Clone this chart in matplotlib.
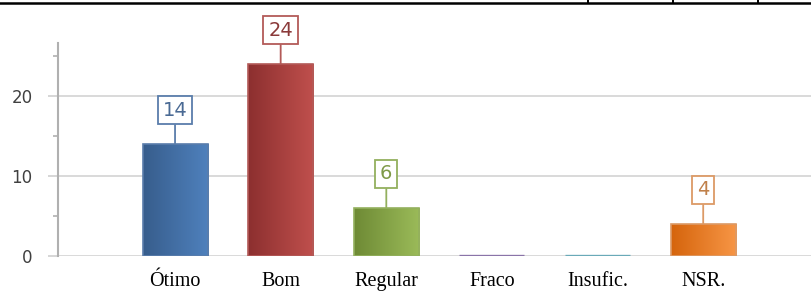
import numpy as np
import matplotlib
matplotlib.use("Agg")
import matplotlib.pyplot as plt
from matplotlib.colors import LinearSegmentedColormap
from matplotlib.lines import Line2D
from matplotlib.ticker import MultipleLocator

# ---- data ----
categories = ["Ótimo", "Bom", "Regular", "Fraco", "Insufic.", "NSR."]
values = [14, 24, 6, 0, 0, 4]
y_ticks = [0, 10, 20]

# ---- styles ----
dark_colors = ["#375d8c", "#8c2f2f", "#6e8a35", "#6f5790", "#4a9bb0", "#d5640c"]
light_colors = ["#4f81bd", "#c0504d", "#9bbb59", "#8a74a8", "#6aaab8", "#f79646"]
edge_colors = ["#5a7dab", "#b35a58", "#93b05e", "#8a74a8", "#6aaab8", "#dc9a66"]
text_colors = ["#4a6a94", "#8b3a3a", "#7f9a48", "#6f5790", "#4a9bb0", "#c0804a"]

W, H, DPI = 812, 291, 100
fig = plt.figure(figsize=(W / DPI, H / DPI), dpi=DPI)
fig.patch.set_facecolor("white")

ax_left, ax_bottom = 58 / W, (H - 255.7) / H
ax_w, ax_h = (W - 58) / W, (255.7 - 43) / H
ax = fig.add_axes([ax_left, ax_bottom, ax_w, ax_h])

x = np.arange(len(categories))
bar_w = 0.616
bars = ax.bar(x, values, width=bar_w, color="none", zorder=3)

grad = np.linspace(0, 1, 256).reshape(1, -1)
for i, (b, v) in enumerate(zip(bars, values)):
    if v > 0:
        cmap = LinearSegmentedColormap.from_list("g%d" % i, [dark_colors[i], light_colors[i]])
        im = ax.imshow(grad, cmap=cmap, aspect="auto", zorder=3,
                       extent=[b.get_x(), b.get_x() + b.get_width(), 0, v],
                       interpolation="bilinear")
        im.set_clip_path(b)
        b.set_edgecolor(edge_colors[i])
        b.set_linewidth(1.2)
        b.set_zorder(4)
        ax.annotate(str(v), xy=(x[i], v), xytext=(0, 24.3), textcoords="offset points",
                    ha="center", va="center", fontsize=14, color=text_colors[i],
                    family="DejaVu Sans", zorder=6,
                    bbox=dict(boxstyle="square,pad=0.25", fc="white", ec=edge_colors[i], lw=1.3),
                    arrowprops=dict(arrowstyle="-", color=edge_colors[i], lw=1.3,
                                    shrinkA=0, shrinkB=0))
    else:
        b.set_edgecolor(light_colors[i])
        b.set_linewidth(2.4)
        b.set_zorder(5)

ax.set_xlim(-1.108, 6.03)
ax.set_ylim(0, 26.6)

ax.set_yticks(y_ticks)
ax.yaxis.set_minor_locator(MultipleLocator(5))
ax.set_xticks(x)
ax.set_xticklabels(categories, family="Liberation Serif", fontsize=14.5, color="black")
ax.tick_params(axis="x", length=0, pad=12)
ax.tick_params(axis="y", which="major", length=7.2, width=1.2, color="#d0d0d0",
               labelsize=12, labelcolor="#404040", pad=11)
ax.tick_params(axis="y", which="minor", length=3.6, width=1.2, color="#b0b0b0")
for lab in ax.get_yticklabels():
    lab.set_family("DejaVu Sans")

ax.yaxis.grid(True, which="major", color="#d9d9d9", lw=1.4, zorder=1)
ax.set_axisbelow(True)

for s in ["top", "right", "bottom"]:
    ax.spines[s].set_visible(False)
ax.spines["left"].set_color("#b0b0b0")
ax.spines["left"].set_linewidth(1.5)
ax.set_facecolor("none")

# top border line with stubs
fig.add_artist(Line2D([0, 1], [1 - 3 / H, 1 - 3 / H], color="black", lw=1.8,
                      transform=fig.transFigure))
for px in [588, 673, 758]:
    fig.add_artist(Line2D([px / W, px / W], [1 - 3 / H, 1.0], color="black", lw=1.4,
                          transform=fig.transFigure))

fig.savefig("out.png", dpi=DPI, facecolor="white")
